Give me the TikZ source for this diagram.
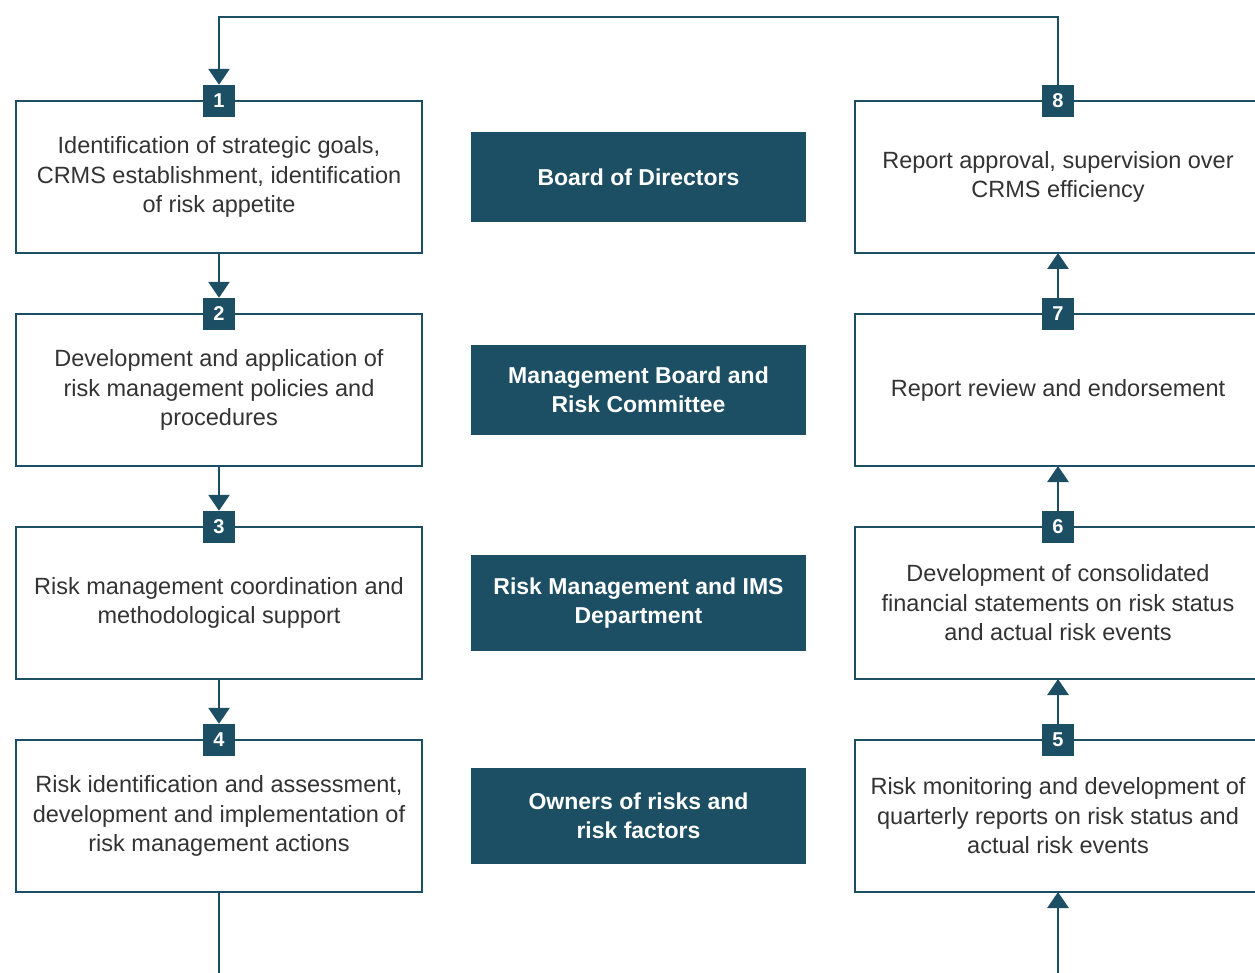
\documentclass[tikz,border=0pt]{standalone}
\usepackage{fontspec}
\setmainfont{Liberation Sans}
\usetikzlibrary{arrows.meta,positioning,calc}
\definecolor{crmsteal}{HTML}{1C4F63}
\definecolor{crmstext}{HTML}{333333}

\begin{document}
\begin{tikzpicture}[
  x=1pt, y=-1pt,
  >={Triangle[width=21pt,length=16pt]},
  flow/.style={draw=crmsteal, line width=2.8pt},
  stage/.style={draw=crmsteal, line width=2.8pt, fill=white, outer sep=0pt, align=center,
    minimum width=406pt, minimum height=152pt, text=crmstext,
    font=\fontsize{23.5pt}{29.5pt}\selectfont},
  badge/.style={fill=crmsteal, minimum size=32pt, inner sep=0pt, text=white,
    font=\bfseries\fontsize{20pt}{22pt}\selectfont},
  role/.style={fill=crmsteal, minimum width=335pt, align=center, text=white,
    font=\bfseries\fontsize{23pt}{29pt}\selectfont}
]
\useasboundingbox (0,0) rectangle (1255,973);
\clip (0,0) rectangle (1255,973);

% left column: going down
\node[stage] (s1) at (219,177) {Identification of strategic goals,\\CRMS establishment, identification\\of risk appetite};
\node[stage, below=61pt of s1] (s2) {Development and application of\\risk management policies and\\procedures};
\node[stage, below=61pt of s2] (s3) {Risk management coordination and\\methodological support};
\node[stage, below=61pt of s3] (s4) {Risk identification and assessment,\\development and implementation of\\risk management actions};

% right column: going up
\node[stage, right=433pt of s1] (s8) {Report approval, supervision over\\CRMS efficiency};
\node[stage, below=61pt of s8] (s7) {Report review and endorsement};
\node[stage, below=61pt of s7] (s6) {Development of consolidated\\financial statements on risk status\\and actual risk events};
\node[stage, below=61pt of s6] (s5) {Risk monitoring and development of\\quarterly reports on risk status and\\actual risk events};

% roles in the middle
\node[role, minimum height=90pt] (r1) at ($(s1)!0.5!(s8)$) {Board of Directors};
\node[role, minimum height=90pt] (r2) at ($(s2)!0.5!(s7)$) {Management Board and\\Risk Committee};
\node[role, minimum height=96pt] (r3) at ($(s3)!0.5!(s6)$) {Risk Management and IMS\\Department};
\node[role, minimum height=96pt] (r4) at ($(s4)!0.5!(s5)$) {Owners of risks and\\risk factors};

% number badges
\foreach \n in {1,...,8}
  \node[badge] (b\n) at (s\n.north) {\n};

% connectors
\coordinate (top) at (638,17);
\coordinate (leftend) at (219,973);
\coordinate (rightend) at (1058,973);
\draw[flow, ->] (b8.north) |- (top) -| (b1.north);
\draw[flow, ->] (s1.south) -- (b2.north);
\draw[flow, ->] (s2.south) -- (b3.north);
\draw[flow, ->] (s3.south) -- (b4.north);
\draw[flow] (s4.south) -- (leftend);
\draw[flow, ->] (rightend) -- (s5.south);
\draw[flow, ->] (b5.north) -- (s6.south);
\draw[flow, ->] (b6.north) -- (s7.south);
\draw[flow, ->] (b7.north) -- (s8.south);

\end{tikzpicture}
\end{document}
